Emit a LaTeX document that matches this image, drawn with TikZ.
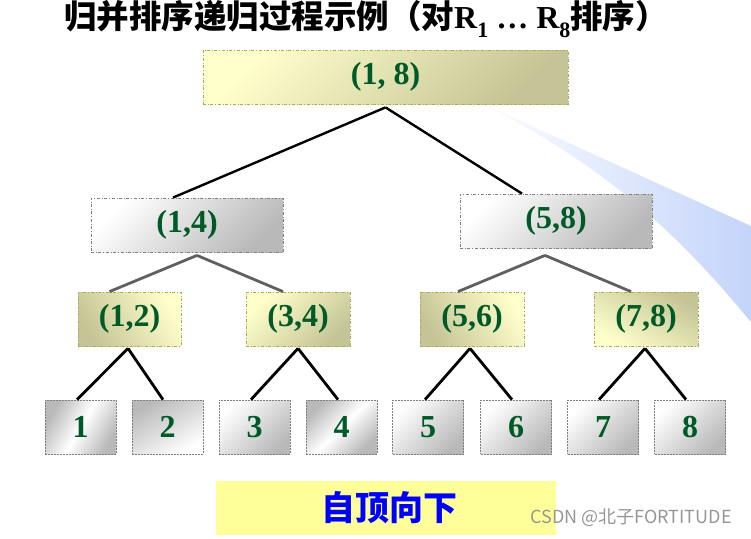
\documentclass[tikz,border=0pt]{standalone}
\usepackage{fontspec}
\setmainfont{Liberation Serif}
\newfontfamily\cjk{Noto Sans CJK SC}
\newfontfamily\wmfont{Noto Sans CJK SC}
\definecolor{tgreen}{RGB}{0,90,40}
\definecolor{lyel}{RGB}{255,255,204}
\definecolor{olv}{RGB}{196,196,150}
\definecolor{olvline}{RGB}{170,170,90}
\definecolor{gline}{RGB}{128,128,128}
\definecolor{dgray}{RGB}{185,185,185}
\definecolor{wblue}{RGB}{196,212,250}
\definecolor{botyel}{RGB}{255,255,153}
\definecolor{edgegray}{RGB}{96,96,96}
\begin{document}
\begin{tikzpicture}[x=1pt,y=-1pt,
  numtext/.style={font=\bfseries\fontsize{32}{34}\selectfont, text=tgreen, inner sep=0pt},
  ybox/.style={numtext, draw=olvline, dash dot, line width=0.8pt, minimum height=54pt},
  gbox/.style={numtext, draw=gline, dash dot, line width=0.8pt, minimum height=54pt, minimum width=192pt},
  leafbox/.style={numtext, draw=gline, dash pattern=on 2pt off 1pt, line width=0.8pt, minimum height=54pt, minimum width=71pt},
  topline/.style={line width=2.4pt, black},
  midline/.style={line width=2.8pt, edgegray},
  lowline/.style={line width=2.8pt, black}]
\useasboundingbox (0,0) rectangle (751,538);
% light blue wedge
\shade[left color=white, right color=wblue] (470,98) -- (751,226) -- (751,322) .. controls (695,255) and (620,170) .. (470,98) -- cycle;
% title
\node (title) at (366,19) {\cjk\bfseries\fontsize{32.5}{34}\selectfont 归并排序递归过程示例（对{\rmfamily\bfseries\fontsize{32}{34}\selectfont R\raisebox{-0.28em}{\fontsize{22}{22}\selectfont 1} … R\raisebox{-0.28em}{\fontsize{22}{22}\selectfont 8}}排序）};
% level 0
\node[ybox, minimum width=365pt, left color=lyel, right color=olv, shading angle=45] (n18) at (385.5,77) {(1, 8)};
% level 1
\node[gbox, left color=white, right color=dgray, shading angle=45] (n14) at (187,225) {(1,4)};
\node[gbox, left color=white, right color=dgray, shading angle=45] (n58) at (556,221) {(5,8)};
% level 2
\node[ybox, minimum width=103pt, left color=olv, right color=lyel, shading angle=120] (n12) at (129.5,319) {(1,2)};
\node[ybox, minimum width=104pt, left color=lyel, right color=olv, shading angle=45] (n34) at (298,319) {(3,4)};
\node[ybox, minimum width=104pt, left color=olv, right color=lyel, shading angle=120] (n56) at (472,319) {(5,6)};
\node[ybox, minimum width=104pt, left color=lyel, right color=olv, shading angle=150] (n78) at (646,319) {(7,8)};
% leaves
\node[leafbox, left color=dgray, right color=dgray, middle color=white, shading angle=60] (l1) at (80.5,427) {1};
\node[leafbox, left color=dgray, right color=white, shading angle=30] (l2) at (167.5,427) {2};
\node[leafbox, left color=white, right color=dgray, shading angle=45] (l3) at (254.5,427) {3};
\node[leafbox, left color=dgray, right color=dgray, middle color=white, shading angle=45] (l4) at (341.5,427) {4};
\node[leafbox, left color=white, right color=dgray, shading angle=45] (l5) at (428,427) {5};
\node[leafbox, left color=white, right color=dgray, shading angle=45] (l6) at (516,427) {6};
\node[leafbox, left color=white, right color=dgray, shading angle=45] (l7) at (603,427) {7};
\node[leafbox, left color=white, right color=dgray, shading angle=45] (l8) at (690,427) {8};
% connectors
\draw[topline] ([yshift=-3pt]n18.south) -- ([xshift=-14pt]n14.north);
\draw[topline] ([yshift=-3pt]n18.south) -- ([xshift=-34pt]n58.north);
\draw[midline] ([xshift=10pt,yshift=-3pt]n14.south) -- ([xshift=-20pt]n12.north);
\draw[midline] ([xshift=10pt,yshift=-3pt]n14.south) -- ([xshift=-15pt]n34.north);
\draw[midline] ([xshift=-11pt,yshift=-7pt]n58.south) -- ([xshift=-14pt]n56.north);
\draw[midline] ([xshift=-11pt,yshift=-7pt]n58.south) -- ([xshift=-15pt]n78.north);
\draw[lowline] ([xshift=-1.5pt,yshift=-2pt]n12.south) -- ([xshift=-3.5pt]l1.north);
\draw[lowline] ([xshift=-1.5pt,yshift=-2pt]n12.south) -- ([xshift=-4.5pt]l2.north);
\draw[lowline] ([yshift=-2pt]n34.south) -- ([xshift=-3.5pt]l3.north);
\draw[lowline] ([yshift=-2pt]n34.south) -- ([xshift=-3.5pt]l4.north);
\draw[lowline] ([xshift=-2pt,yshift=-2pt]n56.south) -- ([xshift=-3pt]l5.north);
\draw[lowline] ([xshift=-2pt,yshift=-2pt]n56.south) -- ([xshift=-4pt]l6.north);
\draw[lowline] ([xshift=-1pt,yshift=-2pt]n78.south) -- ([xshift=-4pt]l7.north);
\draw[lowline] ([xshift=-1pt,yshift=-2pt]n78.south) -- ([xshift=-4pt]l8.north);
% bottom label
\node[fill=botyel, minimum width=340pt, minimum height=54pt, inner sep=0pt] (bot) at (386,508) {};
\node[text=blue, font=\cjk\bfseries\fontsize{34}{36}\selectfont, inner sep=0pt] (bottxt) at (389,508) {自顶向下};
% watermark
\node[text={rgb,255:red,150;green,150;blue,150}, font=\wmfont\fontsize{18}{20}\selectfont, inner sep=0pt] (wm) at (631,518) {CSDN @北子FORTITUDE};
\end{tikzpicture}
\end{document}
